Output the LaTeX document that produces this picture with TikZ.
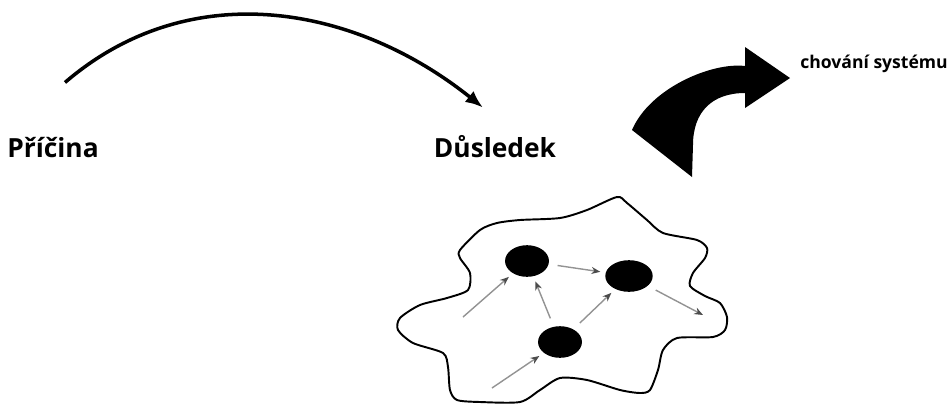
\documentclass[tikz,border=0pt]{standalone}
\usepackage{fontspec}
\setmainfont{Open Sans}
\usetikzlibrary{arrows.meta,shapes.geometric}

\tikzset{
  label/.style={inner sep=0pt, font=\bfseries\fontsize{15}{18}\selectfont},
  small/.style={inner sep=0pt, font=\bfseries\fontsize{10}{12}\selectfont},
  dot/.style={ellipse, fill=black, inner sep=0pt, minimum width=25pt, minimum height=18pt},
  flow/.style={draw=gray!85, line width=0.8pt, -{Stealth[length=5pt,width=4pt,black!70]}, shorten >=3pt},
  fromdot/.style={shorten <=5pt},
  blob/.style={line width=1.1pt, line join=round},
}

\begin{document}
\begin{tikzpicture}[x=0.02cm,y=-0.02cm]
\useasboundingbox (0,0) rectangle (948,407);

\node [label, anchor=base] (pricina) at (53,157) {Příčina};
\node [label, anchor=base] (dusledek) at (495,157) {Důsledek};
\node [small, anchor=base west] (chovani) at (800,68) {chování systému};

\draw [line width=2pt, -{Latex[length=10pt,width=8pt]}]
  ([shift={(12,-54)}]pricina.north) .. controls (190,-25) and (355,5) .. ([shift={(-12,-27)}]dusledek.north);

\fill (632,130) .. controls (650,88) and (712,62) .. (745,66) -- (745,47) -- (790,78)
  -- (745,108) -- (745,93) .. controls (712,93) and (693,112) .. (693,145) -- (692,177) -- cycle;

\draw [blob] plot [smooth cycle, tension=0.45] coordinates {
  (497,223) (520,220) (560,218) (587,210) (617,197) (627,203) (647,220) (663,233)
  (697,240) (707,248) (705,258) (693,273) (690,286) (705,296) (720,303) (727,317)
  (725,330) (713,337) (677,338) (663,350) (658,370) (650,390) (640,393) (620,390)
  (587,380) (560,378) (540,390) (520,402) (480,402) (457,400) (450,390) (448,367)
  (443,353) (413,343) (398,330) (400,318) (420,305) (447,298) (468,290) (470,273)
  (460,258) (460,250) (480,230)};

\node [dot] (a) at (527,261) {};
\node [dot, minimum width=27pt] (b) at (629,276) {};
\node [dot] (c) at (560,342) {};

\coordinate (in1) at (463,317);
\coordinate (in2) at (492,388);
\coordinate (out) at (703,315);

\draw [flow] (in1) -- (a);
\draw [flow] (in2) -- (c);
\draw [flow, fromdot] (a) -- (b);
\draw [flow, fromdot] (c) -- (a);
\draw [flow, fromdot] (c) -- (b);
\draw [flow, fromdot, shorten >=0pt] (b) -- (out);
\end{tikzpicture}
\end{document}
